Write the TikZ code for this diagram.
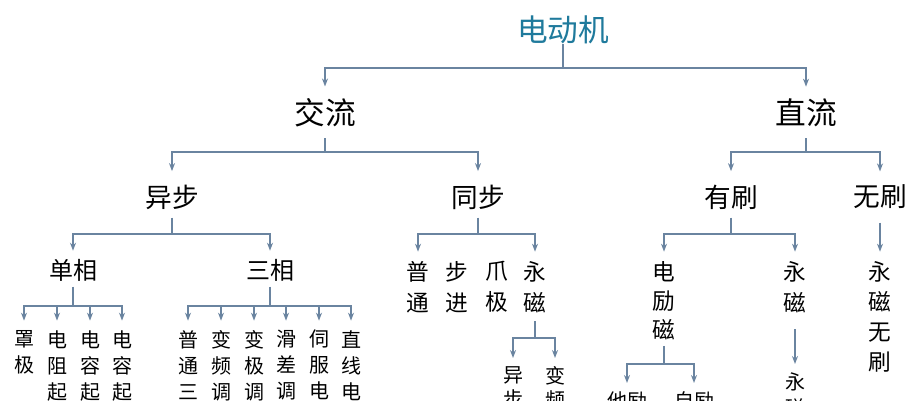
\documentclass[tikz,border=0pt]{standalone}
\usepackage{fontspec}
\setmainfont{Noto Sans CJK SC}
\usetikzlibrary{arrows.meta}
\begin{document}
\begin{tikzpicture}[x=0.75pt,y=-0.75pt,
  ln/.style={draw=lc,line width=1.1pt},
  ar/.style={ln,-{Stealth[length=6pt,width=4.5pt]}},
  t/.style={inner sep=0pt,anchor=center},
  col/.style={inner sep=0pt,anchor=north,align=center,font=\fontsize{15}{19.5}\selectfont},
  colb/.style={inner sep=0pt,anchor=north,align=center,font=\fontsize{17}{23.5}\selectfont}]
\definecolor{lc}{HTML}{6A84A0}
\definecolor{tc}{HTML}{1F7A9C}
\useasboundingbox (0,0) rectangle (923,400);
\clip (0,0) rectangle (923,400);
% level 0
\node[t,font=\fontsize{23}{23}\selectfont,text=tc] (root) at (563,30) {电动机};
\node[t,font=\fontsize{23}{23}\selectfont] (ac) at (325,113) {交流};
\node[t,font=\fontsize{23}{23}\selectfont] (dc) at (806,113) {直流};
\draw[ln] (root.south) -- (563,68) coordinate (j0);
\draw[ar] (j0) -| ([yshift=9pt]ac.north);
\draw[ar] (j0) -| ([yshift=9pt]dc.north);
% level 2
\node[t,font=\fontsize{20}{20}\selectfont] (async) at (172,197) {异步};
\node[t,font=\fontsize{20}{20}\selectfont] (sync) at (478,197) {同步};
\node[t,font=\fontsize{20}{20}\selectfont] (brush) at (731,197) {有刷};
\node[t,font=\fontsize{20}{20}\selectfont] (nobrush) at (880,197) {无刷};
\draw[ln] ([yshift=-8pt]ac.south) -- (325,152) coordinate (j1);
\draw[ar] (j1) -| ([yshift=10pt]async.north);
\draw[ar] (j1) -| ([yshift=10pt]sync.north);
\draw[ln] ([yshift=-8pt]dc.south) -- (806,152) coordinate (j2);
\draw[ar] (j2) -| ([yshift=10pt]brush.north);
\draw[ar] (j2) -| ([yshift=10pt]nobrush.north);
% level 3
\node[t,font=\fontsize{18}{18}\selectfont] (single) at (73,270) {单相};
\node[t,font=\fontsize{18}{18}\selectfont] (three) at (270,270) {三相};
\draw[ln] ([yshift=-6pt]async.south) -- (172,234) coordinate (j3);
\draw[ar] (j3) -| ([yshift=6pt]single.north);
\draw[ar] (j3) -| ([yshift=6pt]three.north);
% sync children
\node[colb] (s1) at (418,261) {普\\通};
\node[colb] (s2) at (457,261) {步\\进};
\node[colb] (s3) at (497,261) {爪\\极};
\node[colb] (s4) at (535,261) {永\\磁};
\draw[ln] ([yshift=-6pt]sync.south) -- (478,234) coordinate (j4);
\draw[ar] (j4) -| ([yshift=7pt]s1.north);
\draw[ar] (j4) -| ([yshift=7pt]s4.north);
% brush children
\node[colb,font=\fontsize{17}{22}\selectfont] (b1) at (664,261) {电\\励\\磁};
\node[colb] (b2) at (795,261) {永\\磁};
\draw[ln] ([yshift=-6pt]brush.south) -- (731,234) coordinate (j5);
\draw[ar] (j5) -| ([yshift=7pt]b1.north);
\draw[ar] (j5) -| ([yshift=7pt]b2.north);
% no brush
\node[colb,font=\fontsize{17}{22.5}\selectfont] (nb) at (880,261) {永\\磁\\无\\刷};
\draw[ar] ([yshift=-10pt]nobrush.south) -- ([yshift=7pt]nb.north);
% single phase children
\foreach \n/\x/\s in {a1/24/{罩\\极},a2/57/{电\\阻\\起},a3/90/{电\\容\\起},a4/122/{电\\容\\起}}
  \node[col] (\n) at (\x,330) {\s};
\draw[ln] ([yshift=-4pt]single.south) -- (73,306) coordinate (j6);
\foreach \n in {a1,a2,a3,a4} \draw[ar] (j6) -| ([yshift=7pt]\n.north);
% three phase children
\foreach \n/\x/\s in {c1/188/{普\\通\\三},c2/221/{变\\频\\调},c3/254/{变\\极\\调},c4/286/{滑\\差\\调},c5/319/{伺\\服\\电},c6/351/{直\\线\\电}}
  \node[col] (\n) at (\x,330) {\s};
\draw[ln] ([yshift=-4pt]three.south) -- (270,306) coordinate (j7);
\foreach \n in {c1,c2,c3,c4,c5,c6} \draw[ar] (j7) -| ([yshift=7pt]\n.north);
% pm sync children
\node[col,font=\fontsize{15}{18}\selectfont] (p1) at (513,366) {异\\步};
\node[col,font=\fontsize{15}{18}\selectfont] (p2) at (555,366) {变\\频};
\draw[ln] ([yshift=-6pt]s4.south) -- (535,338) coordinate (j8);
\draw[ar] (j8) -| ([yshift=6pt]p1.north);
\draw[ar] (j8) -| ([yshift=6pt]p2.north);
% electric excitation children
\node[col] (e1) at (627,391) {他励};
\node[col] (e2) at (694,391) {自励};
\draw[ln] ([yshift=-4pt]b1.south) -- (664,364) coordinate (j9);
\draw[ar] (j9) -| ([yshift=6pt]e1.north);
\draw[ar] (j9) -| ([yshift=6pt]e2.north);
% pm brush child
\node[col] (m1) at (795,372) {永\\磁};
\draw[ar] ([yshift=-12pt]b2.south) -- ([yshift=6pt]m1.north);
\end{tikzpicture}
\end{document}
